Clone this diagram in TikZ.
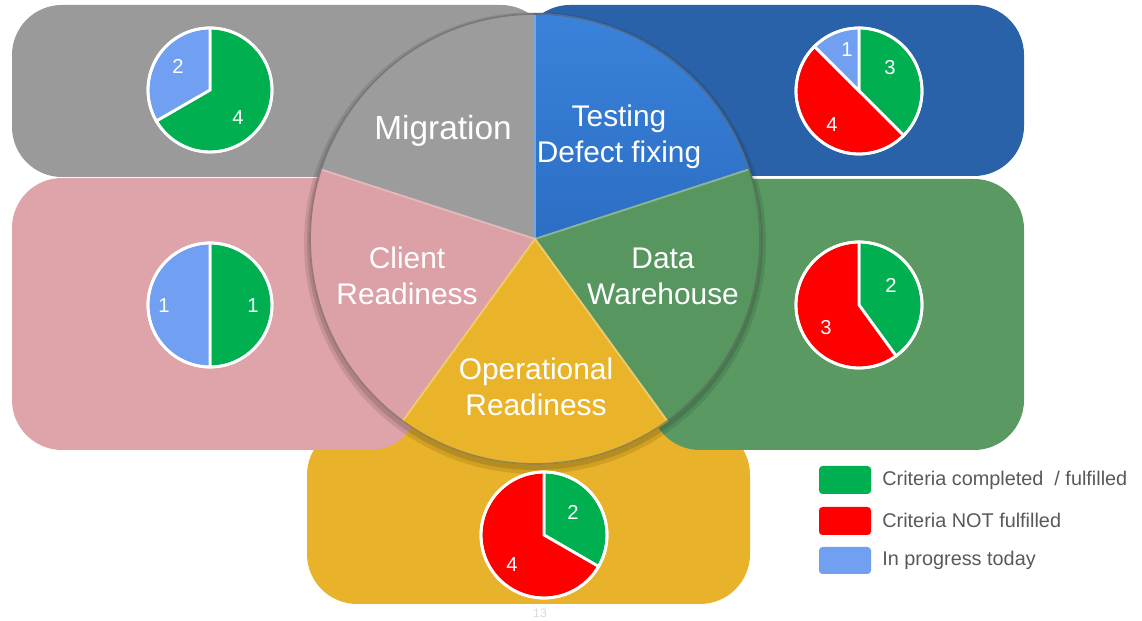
\documentclass[tikz,border=0pt]{standalone}
\usepackage{fontspec}
\setmainfont{Liberation Sans}
\definecolor{boxgray}{HTML}{9A9A9A}
\definecolor{boxblue}{HTML}{2A62A9}
\definecolor{boxpink}{HTML}{DFA4A9}
\definecolor{boxgreen}{HTML}{5A9A62}
\definecolor{boxyellow}{HTML}{E8B32A}
\definecolor{seggray}{HTML}{9C9C9C}
\definecolor{segbluetop}{HTML}{3A82DA}
\definecolor{segbluebot}{HTML}{2C6EC4}
\definecolor{segpink}{HTML}{DCA1A6}
\definecolor{seggreen}{HTML}{57975F}
\definecolor{segyellow}{HTML}{EAB42A}
\definecolor{piegreen}{HTML}{00B050}
\definecolor{piered}{HTML}{FF0000}
\definecolor{pieblue}{HTML}{71A0F2}
\definecolor{legtext}{HTML}{595959}
\newcommand\pieslice[5]{\fill[#5, draw=white, line width=1.6pt] (#1) -- ++(#2:#4) arc (#2:#3:#4) -- cycle;}
\newcommand\bigseg[3]{\path[#3] (C) -- ++(#1:225) arc (#1:#2:225) -- cycle;}
\begin{document}
\begin{tikzpicture}[x=0.02cm,y=0.02cm,
  bgbox/.style={rounded corners=1cm},
  segtext/.style={text=white, align=center, font=\fontsize{17}{20.5}\selectfont, inner sep=0pt},
  pienum/.style={text=white, font=\fontsize{11.5}{13}\selectfont, inner sep=0pt},
  legbox/.style={rounded corners=2pt},
  legtxt/.style={text=legtext, anchor=west, font=\fontsize{11.3}{13}\selectfont, inner sep=0pt},
  segedge/.style={line width=1pt}]
\useasboundingbox (0,0) rectangle (1142,621);
% background boxes
\fill[boxgray, bgbox] (12,444) rectangle (551,616);
\fill[boxblue, bgbox] (520,445) rectangle (1024,616);
\fill[boxyellow, bgbox] (307,17) rectangle (750,196);
\fill[boxpink, bgbox] (12,171) rectangle (420,443);
\fill[boxgreen, bgbox] (650,171) rectangle (1024,442);
% central circle
\coordinate (C) at (535,382);
\fill[black, opacity=0.10] (535,378) circle (231);
\fill[black, opacity=0.12] (535,379) circle (228);
\bigseg{90}{162}{fill=seggray, draw=seggray!70!white, segedge}
\bigseg{18}{90}{top color=segbluetop, bottom color=segbluebot, draw=segbluetop!70!white, segedge}
\bigseg{-54}{18}{fill=seggreen, draw=seggreen!70!white, segedge}
\bigseg{162}{234}{fill=segpink, draw=segpink!75!white, segedge}
\bigseg{-126}{-54}{fill=segyellow, draw=segyellow!70!white, segedge}
\draw[black, opacity=0.35, line width=1pt] (C) circle (225);
\node[segtext, font=\fontsize{19}{22}\selectfont] (mig) at (443,490) {Migration};
\node[segtext] (test) at (619,484) {Testing\\Defect fixing};
\node[segtext] (client) at (407,345) {Client\\Readiness};
\node[segtext] (dw) at (663,345) {Data\\Warehouse};
\node[segtext] (op) at (536,234) {Operational\\Readiness};
% pie: Migration
\coordinate (p1) at (210,531);
\pieslice{p1}{90}{-150}{62}{piegreen}
\pieslice{p1}{210}{90}{62}{pieblue}
\draw[white, line width=1.6pt] (p1) circle (62);
\node[pienum] (p1a) at (178,555) {2};
\node[pienum] (p1b) at (238,503) {4};
% pie: Testing
\coordinate (p2) at (859,530);
\pieslice{p2}{90}{-45}{63}{piegreen}
\pieslice{p2}{-45}{-225}{63}{piered}
\pieslice{p2}{135}{90}{63}{pieblue}
\draw[white, line width=1.6pt] (p2) circle (63);
\node[pienum] (p2a) at (847,571) {1};
\node[pienum] (p2b) at (890,553) {3};
\node[pienum] (p2c) at (832,496) {4};
% pie: Client Readiness
\coordinate (p3) at (210,316);
\pieslice{p3}{90}{-90}{62}{piegreen}
\pieslice{p3}{90}{270}{62}{pieblue}
\draw[white, line width=1.6pt] (p3) circle (62);
\node[pienum] (p3a) at (164,315) {1};
\node[pienum] (p3b) at (253,315) {1};
% pie: Data Warehouse
\coordinate (p4) at (859,316);
\pieslice{p4}{90}{-54}{63}{piegreen}
\pieslice{p4}{-54}{-270}{63}{piered}
\draw[white, line width=1.6pt] (p4) circle (63);
\node[pienum] (p4a) at (891,336) {2};
\node[pienum] (p4b) at (826,293) {3};
% pie: Operational Readiness
\coordinate (p5) at (544,86);
\pieslice{p5}{90}{-30}{63}{piegreen}
\pieslice{p5}{-30}{-270}{63}{piered}
\draw[white, line width=1.6pt] (p5) circle (63);
\node[pienum] (p5a) at (573,109) {2};
\node[pienum] (p5b) at (512,56) {4};
% legend
\fill[piegreen, legbox] (819,127) rectangle (871,155);
\fill[piered, legbox] (819,86) rectangle (871,114);
\fill[pieblue, legbox] (819,47) rectangle (871,74);
\node[legtxt] (l1) at (882,141) {Criteria completed \ / fulfilled};
\node[legtxt] (l2) at (882,101) {Criteria NOT fulfilled};
\node[legtxt] (l3) at (882,61) {In progress today};
% page number
\node[text=black!15, font=\fontsize{7}{8}\selectfont, inner sep=0pt] (pg) at (540,8) {13};
\end{tikzpicture}
\end{document}
